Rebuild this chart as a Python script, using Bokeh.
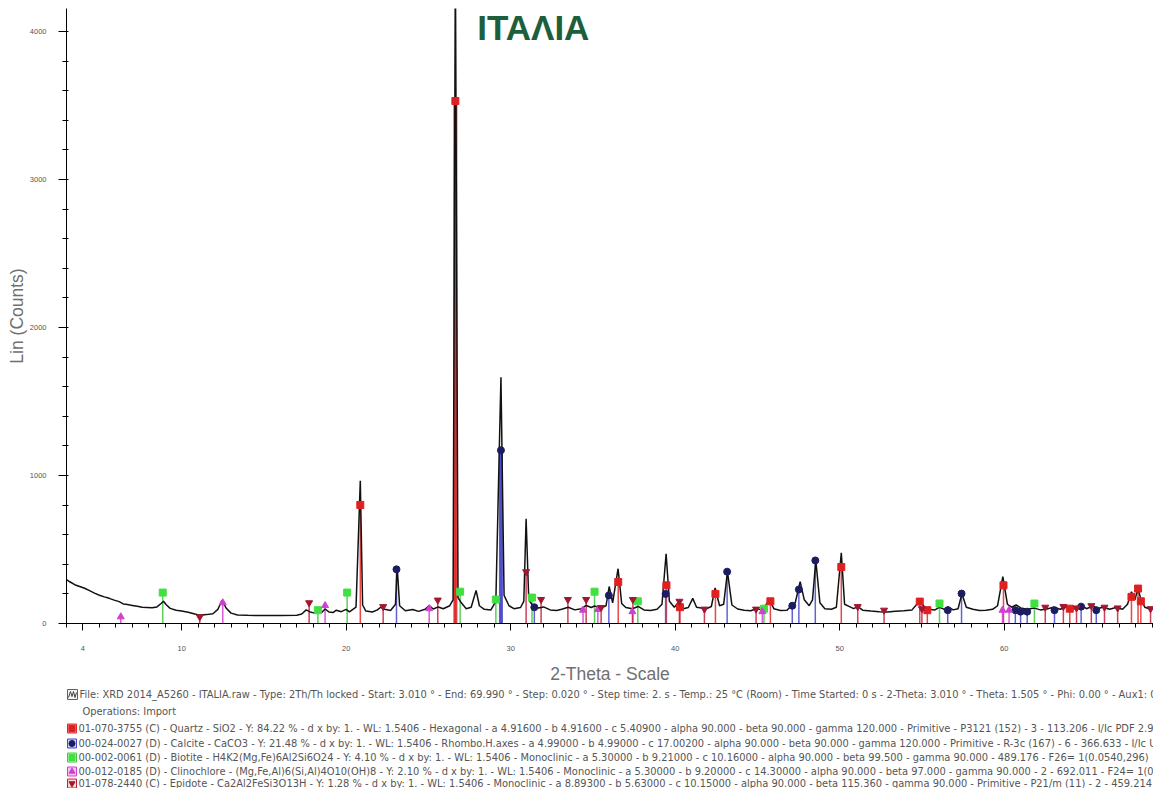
from bokeh.plotting import figure
from bokeh.models import Range1d, FixedTicker, SingleIntervalTicker, Label
from bokeh.layouts import column
from bokeh.embed import file_html
from bokeh.resources import INLINE
from bokeh.core.properties import value

# ---------------- measured pattern (2-Theta, Lin counts) ----------------
two_theta = [3.0, 3.2, 3.5, 3.8, 4.1, 4.4, 4.7, 5.0, 5.3, 5.6, 5.9, 6.2, 6.45, 6.7, 7.0, 7.3, 7.6, 7.9,
             8.2, 8.5, 8.75, 8.9, 9.05, 9.3, 9.67, 10.0, 10.4, 10.8, 11.1, 11.5, 11.9, 12.2, 12.45, 12.7,
             13.0, 13.4, 14.0, 15.0, 16.0, 17.0, 17.3, 17.57, 17.8, 18.1, 18.3, 18.5, 18.72, 18.95, 19.2,
             19.4, 19.7, 20.0, 20.2, 20.6, 20.86, 21.0, 21.2, 21.6, 21.9, 22.1, 22.35, 22.7, 23.0, 23.1,
             23.25, 23.6, 24.05, 24.4, 24.8, 25.05, 25.3, 25.6, 25.9, 26.3, 26.5, 26.64, 26.8, 27.0, 27.3,
             27.6, 27.9, 28.1, 28.4, 28.8, 29.1, 29.41, 29.6, 29.9, 30.2, 30.6, 30.8, 30.94, 31.1, 31.35,
             31.7, 32.0, 32.4, 32.8, 33.1, 33.5, 33.9, 34.3, 34.6, 34.9, 35.1, 35.5, 35.8, 35.99, 36.2,
             36.53, 36.75, 37.0, 37.4, 37.75, 38.1, 38.5, 38.9, 39.2, 39.45, 39.65, 39.95, 40.26, 40.5,
             40.8, 41.07, 41.3, 41.6, 41.9, 42.2, 42.43, 42.7, 42.95, 43.18, 43.45, 43.8, 44.2, 44.6,
             44.92, 45.3, 45.73, 46.0, 46.4, 46.8, 47.1, 47.3, 47.6, 47.85, 48.15, 48.35, 48.55, 48.8,
             49.1, 49.5, 49.8, 50.1, 50.3, 50.6, 50.85, 51.1, 51.4, 51.9, 52.4, 52.9, 53.4, 53.9, 54.4,
             54.85, 55.1, 55.4, 55.8, 56.07, 56.4, 56.6, 56.9, 57.2, 57.43, 57.7, 58.1, 58.5, 58.9, 59.3,
             59.6, 59.92, 60.2, 60.45, 60.73, 61.0, 61.4, 61.84, 62.2, 62.6, 63.0, 63.4, 63.8, 64.1, 64.4,
             64.68, 65.0, 65.4, 65.7, 66.0, 66.4, 66.8, 67.2, 67.5, 67.74, 67.95, 68.13, 68.3, 68.55,
             68.9, 69.3, 69.7]
lin_counts = [296, 282, 262, 250, 238, 222, 205, 191, 180, 170, 158, 148, 132, 128, 122, 116, 110, 108,
              106, 112, 135, 150, 128, 102, 90, 84, 76, 64, 56, 60, 66, 95, 157, 105,
              70, 58, 55, 54, 54, 56, 64, 92, 78, 70, 84, 72, 98, 78, 74,
              90, 80, 95, 78, 110, 965, 125, 84, 78, 92, 110, 96, 88, 130, 384,
              120, 86, 95, 82, 96, 121, 98, 112, 100, 120, 160, 4500, 175, 140, 100,
              110, 224, 120, 96, 92, 150, 1663, 190, 120, 100, 108, 150, 707, 160, 120,
              105, 112, 92, 88, 96, 110, 92, 100, 122, 108, 118, 104, 120, 250, 140,
              370, 135, 108, 100, 115, 92, 88, 96, 130, 471, 150, 110, 150, 100,
              108, 170, 110, 105, 100, 115, 240, 120, 130, 350, 125, 98, 90, 86,
              100, 92, 160, 100, 88, 90, 125, 140, 283, 160, 120, 160, 426, 140,
              100, 96, 110, 478, 130, 114, 100, 114, 90, 84, 80, 78, 82, 86, 92,
              150, 120, 96, 92, 110, 94, 112, 92, 100, 202, 110, 96, 88, 90, 96,
              120, 316, 130, 110, 125, 105, 96, 104, 92, 98, 110, 96, 112, 104, 96,
              125, 100, 118, 100, 112, 96, 108, 96, 130, 215, 160, 236, 170, 110,
              96, 100, 95]

# ---------------- reference patterns (stick position, stick height) ----------------
quartz_pos = [20.86, 26.64, 36.54, 39.47, 40.29, 42.45, 45.79, 50.1, 54.87, 55.33, 59.96, 63.99, 67.74, 68.14, 68.31]
quartz_h = [801, 3530, 280, 258, 110, 200, 150, 382, 148, 90, 258, 100, 180, 236, 150]

calcite_pos = [23.06, 29.41, 31.44, 35.97, 39.42, 43.16, 47.12, 47.52, 48.52, 56.57, 57.41, 60.68, 61.0, 61.4, 63.06, 64.68, 65.6]
calcite_h = [366, 1170, 110, 190, 200, 350, 120, 230, 426, 90, 202, 90, 80, 80, 90, 114, 90]

biotite_pos = [8.85, 18.28, 20.06, 26.93, 29.1, 31.3, 35.1, 37.73, 45.4, 56.07, 61.84]
biotite_h = [209, 90, 209, 215, 162, 175, 215, 150, 100, 135, 135]

clino_pos = [6.3, 12.5, 18.72, 25.05, 34.4, 35.3, 37.4, 45.3, 59.9, 60.3]
clino_h = [45, 140, 121, 100, 90, 95, 80, 80, 90, 90]

epidote_pos = [11.1, 17.75, 22.25, 25.57, 30.94, 31.85, 33.48, 34.59, 35.5, 37.43, 40.26, 41.78, 44.92, 51.1,
               52.7, 55.0, 62.5, 63.6, 64.4, 65.3, 66.1, 66.9, 68.9]
epidote_h = [45, 140, 114, 158, 350, 162, 162, 162, 108, 162, 150, 97, 97, 114, 90, 100, 110, 115, 105, 120,
             110, 105, 100]

x_major_ticks = [4, 10, 20, 30, 40, 50, 60, 70]
x_minor_ticks = list(range(3, 71))

title_text = "ΙΤΑΛΙΑ"
x_title = "2-Theta - Scale"
y_title = "Lin (Counts)"

legend_lines = [
    "File: XRD 2014_A5260 - ITALIA.raw - Type: 2Th/Th locked - Start: 3.010 ° - End: 69.990 ° - Step: 0.020 ° - Step time: 2. s - Temp.: 25 °C (Room) - Time Started: 0 s - 2-Theta: 3.010 ° - Theta: 1.505 ° - Phi: 0.00 ° - Aux1: 0.0",
    "Operations: Import",
    "01-070-3755 (C) - Quartz - SiO2 - Y: 84.22 % - d x by: 1. - WL: 1.5406 - Hexagonal - a 4.91600 - b 4.91600 - c 5.40900 - alpha 90.000 - beta 90.000 - gamma 120.000 - Primitive - P3121 (152) - 3 - 113.206 - I/Ic PDF 2.9 - F",
    "00-024-0027 (D) - Calcite - CaCO3 - Y: 21.48 % - d x by: 1. - WL: 1.5406 - Rhombo.H.axes - a 4.99000 - b 4.99000 - c 17.00200 - alpha 90.000 - beta 90.000 - gamma 120.000 - Primitive - R-3c (167) - 6 - 366.633 - I/Ic User",
    "00-002-0061 (D) - Biotite - H4K2(Mg,Fe)6Al2Si6O24 - Y: 4.10 % - d x by: 1. - WL: 1.5406 - Monoclinic - a 5.30000 - b 9.21000 - c 10.16000 - alpha 90.000 - beta 99.500 - gamma 90.000 - 489.176 - F26= 1(0.0540,296)",
    "00-012-0185 (D) - Clinochlore - (Mg,Fe,Al)6(Si,Al)4O10(OH)8 - Y: 2.10 % - d x by: 1. - WL: 1.5406 - Monoclinic - a 5.30000 - b 9.20000 - c 14.30000 - alpha 90.000 - beta 97.000 - gamma 90.000 - 2 - 692.011 - F24= 1(0.07",
    "01-078-2440 (C) - Epidote - Ca2Al2FeSi3O13H - Y: 1.28 % - d x by: 1. - WL: 1.5406 - Monoclinic - a 8.89300 - b 5.63000 - c 10.15000 - alpha 90.000 - beta 115.360 - gamma 90.000 - Primitive - P21/m (11) - 2 - 459.214 - I/I",
]

# phase styles: (positions, heights, stick colour, marker, marker fill, icon fill)
phases = [
    (quartz_pos, quartz_h, "#e02828", "square", "#e02020", "#f08888"),
    (calcite_pos, calcite_h, "#4848c8", "circle", "#1c1c60", "#c8d4f4"),
    (biotite_pos, biotite_h, "#40c840", "square", "#40e040", "#c4f4c4"),
    (clino_pos, clino_h, "#d040d0", "triangle", "#d040d0", "#f4c4f4"),
    (epidote_pos, epidote_h, "#c02040", "inverted_triangle", "#a01830", "#f8d4cc"),
]

FONT = "Liberation Sans"

W = 1153
LEFT = 66
TOP = 8
FRAME_H = 617
BOTTOM = 61
PLOT_H = TOP + FRAME_H + BOTTOM
INFO_H = 788 - PLOT_H

p = figure(width=W, height=PLOT_H, x_range=Range1d(3.0, 3.0 + (W - LEFT) / 16.45), y_range=Range1d(0, 4155),
           output_backend="svg", toolbar_location=None,
           min_border_left=LEFT, min_border_top=TOP, min_border_right=0, min_border_bottom=BOTTOM,
           outline_line_color=None, background_fill_color="white", border_fill_color="white")
p.xgrid.visible = False
p.ygrid.visible = False

# sticks
for pos, h, col, mk, mfill, ifill in phases:
    p.segment(x0=pos, y0=[0] * len(pos), x1=pos, y1=h, line_color=col, line_width=1.5, line_alpha=0.85)
    big = [(x, y) for x, y in zip(pos, h) if y > 1000]
    if big:
        p.segment(x0=[b[0] for b in big], y0=[0] * len(big), x1=[b[0] for b in big], y1=[b[1] for b in big],
                  line_color=col, line_width=4, line_alpha=0.9)

# measured pattern
p.line(two_theta, lin_counts, line_color="#111111", line_width=1.5)

# markers at stick tops
for pos, h, col, mk, mfill, ifill in phases:
    p.scatter(pos, h, marker=mk, size=7, fill_color=mfill, line_color=mfill, line_width=1)

p.xaxis.ticker = FixedTicker(ticks=x_major_ticks, minor_ticks=x_minor_ticks)
p.yaxis.ticker = SingleIntervalTicker(interval=1000, num_minor_ticks=5)

for ax in (p.xaxis[0], p.yaxis[0]):
    ax.axis_line_color = "black"
    ax.major_tick_line_color = "black"
    ax.minor_tick_line_color = "black"
    ax.major_label_text_font = FONT
    ax.major_label_text_font_size = "7.5px"
    ax.major_label_text_color = "#555555"
    ax.axis_label_text_font = FONT
    ax.axis_label_text_font_size = "17.5px"
    ax.axis_label_text_font_style = "normal"
    ax.axis_label_text_color = "#707070"

p.xaxis.axis_label = x_title
p.xaxis.major_tick_in = 0
p.xaxis.major_tick_out = 7
p.xaxis.minor_tick_in = 0
p.xaxis.minor_tick_out = 4
p.xaxis.major_label_standoff = 15
p.xaxis.axis_label_standoff = 10

p.yaxis.axis_label = y_title
p.yaxis.major_tick_in = 0
p.yaxis.major_tick_out = 8
p.yaxis.minor_tick_in = 2
p.yaxis.minor_tick_out = 4
p.yaxis.major_label_standoff = 12
p.yaxis.axis_label_standoff = 0
p.yaxis.major_label_orientation = "horizontal"

p.add_layout(Label(x=27.97, y=4025, text=title_text, text_font=FONT, text_font_size="35px",
                   text_font_style="bold", text_color="#1d5e3c", text_baseline="middle"))

# ---------------- legend / info area (1 data unit = 1 px, origin at the frame's left edge) ----------------
p2 = figure(width=W, height=INFO_H, x_range=Range1d(0, W - LEFT), y_range=Range1d(INFO_H, 0),
            output_backend="svg", toolbar_location=None, x_axis_type=None, y_axis_type=None,
            min_border_left=LEFT, min_border_right=0, min_border_top=0, min_border_bottom=0,
            outline_line_color=None)
p2.xgrid.visible = False
p2.ygrid.visible = False

row_y = [8, 25, 42, 57, 71, 85, 97]
text_x = [13, 16, 12, 12, 12, 12, 12]
p2.text(x=text_x, y=row_y, text=legend_lines, text_font=value("DejaVu Sans"), text_font_size="9.9px",
        text_baseline="middle", text_align="left", text_color="#555555")

# file icon
p2.rect(x=[6], y=[row_y[0]], width=10, height=10, fill_color="#f4f4f4", line_color="#606060", line_width=1)
p2.line(x=[2, 4, 5.5, 7, 8.5, 10], y=[row_y[0] + 3, row_y[0] - 3, row_y[0] + 2, row_y[0] - 3, row_y[0] + 3, row_y[0] - 2],
        line_color="#404040", line_width=1)

# phase icons
for i, (pos, h, col, mk, mfill, ifill) in enumerate(phases):
    yy = row_y[2 + i]
    p2.rect(x=[5.5], y=[yy], width=9, height=9, fill_color=ifill, line_color=col, line_width=1)
    p2.scatter([5.5], [yy], marker=mk, size=6, fill_color=mfill, line_color=mfill)

layout = column(p, p2, spacing=0)
open("out.html", "w").write(file_html(layout, INLINE))
